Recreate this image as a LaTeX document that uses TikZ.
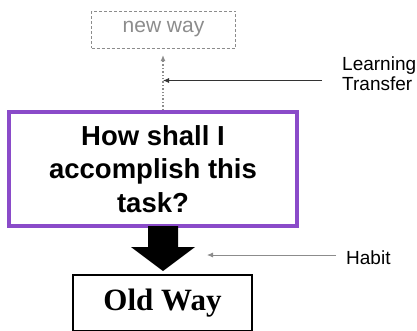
\documentclass[tikz,border=0pt]{standalone}
\usepackage{fontspec}
\setmainfont{Liberation Sans}
\newfontfamily\oldfont{Liberation Serif}
\usetikzlibrary{arrows.meta}
\definecolor{boxpurple}{HTML}{8A4BC9}
\definecolor{waygray}{HTML}{8C8C8C}
\begin{document}
\begin{tikzpicture}[x=1pt,y=-1pt,
  lbl/.style={font=\fontsize{19}{20}\selectfont, align=left, inner sep=0pt},
  pointer/.style={-{Latex[length=6pt,width=5pt]}, line width=0.8pt}]
\useasboundingbox (0,0) rectangle (417,330);
% new way box
\node (new) [draw=waygray, densely dashed, line width=0.9pt, minimum width=144pt, minimum height=37pt,
  text=waygray, font=\fontsize{21}{24}\selectfont, inner sep=0pt] at (163.5,29.5) {new way};
% purple question box
\node (q) [draw=boxpurple, line width=4pt, minimum width=288pt, minimum height=114pt,
  align=center, font=\bfseries\fontsize{27.5}{33.5}\selectfont, inner sep=0pt] at (153,169)
  {How shall I\\accomplish this\\task?};
% old way box
\node (old) [draw=black, line width=2pt, minimum width=179pt, minimum height=56pt,
  font=\oldfont\bfseries\fontsize{31}{34}\selectfont, inner sep=0pt] at (162.5,303) {Old Way};
% dotted transfer arrow
\coordinate (up) at (163,55);
\draw[waygray, dotted, line width=1.4pt, -{Latex[length=6pt,width=5pt]}] (q.north -| up) -- (up);
% big habit arrow
\fill[black] (148,226) -- (178,226) -- (178,247) -- (195,247) -- (163,271) -- (131,247) -- (148,247) -- cycle;
% labels
\node (lt) [lbl, anchor=west] at (342,74) {Learning\\Transfer};
\node (hb) [lbl, anchor=base west] at (346,264) {Habit};
\coordinate (ltend) at (163,80.5);
\coordinate (hbend) at (207,255);
\draw[pointer, black!80] (322,80.5) -- (ltend);
\draw[pointer, waygray] (336,255) -- (hbend);
\end{tikzpicture}
\end{document}
